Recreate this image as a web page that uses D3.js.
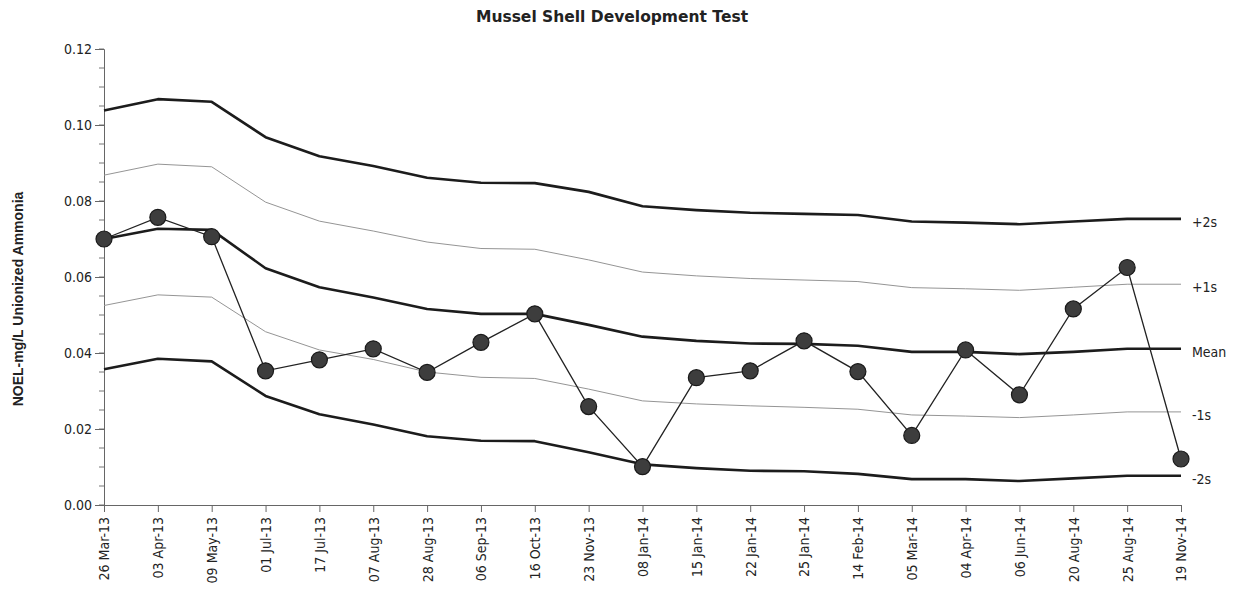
<!DOCTYPE html>
<html>
<head>
<meta charset="utf-8">
<script src="https://cdn.jsdelivr.net/npm/d3@7"></script>
<style>
  html, body { margin: 0; padding: 0; background: #fff; }
  svg { display: block; }
  text { font-family: "DejaVu Sans Condensed", "DejaVu Sans", sans-serif; fill: #222; }
</style>
</head>
<body>
<svg id="chart" width="1233" height="597"></svg>
<script>
// Test dates (x categories)
const dates = ["26 Mar-13", "03 Apr-13", "09 May-13", "01 Jul-13", "17 Jul-13", "07 Aug-13",
  "28 Aug-13", "06 Sep-13", "16 Oct-13", "23 Nov-13", "08 Jan-14", "15 Jan-14", "22 Jan-14",
  "25 Jan-14", "14 Feb-14", "05 Mar-14", "04 Apr-14", "06 Jun-14", "20 Aug-14", "25 Aug-14",
  "19 Nov-14"];

// NOEL results (mg/L unionized ammonia)
const noel = [0.070, 0.0757, 0.0706, 0.0353, 0.0382, 0.0411, 0.0349, 0.0428, 0.0503, 0.0259,
  0.0101, 0.0335, 0.0353, 0.0432, 0.0351, 0.0183, 0.0408, 0.0290, 0.0516, 0.0625, 0.0121];

// Control limits: running mean and ±1s / ±2s
const plus2s = [0.1038, 0.1068, 0.1061, 0.0968, 0.0918, 0.0892, 0.0861, 0.0848, 0.0847, 0.0824,
  0.0786, 0.0776, 0.0769, 0.0766, 0.0763, 0.0746, 0.0743, 0.0739, 0.0746, 0.0753, 0.0753];
const plus1s = [0.0868, 0.0897, 0.0890, 0.0797, 0.0747, 0.0721, 0.0692, 0.0675, 0.0673, 0.0645,
  0.0613, 0.0603, 0.0596, 0.0592, 0.0588, 0.0572, 0.0569, 0.0565, 0.0573, 0.0581, 0.0581];
const mean = [0.0700, 0.0727, 0.0724, 0.0623, 0.0573, 0.0546, 0.0516, 0.0503, 0.0503, 0.0474,
  0.0443, 0.0432, 0.0425, 0.0424, 0.0419, 0.0403, 0.0403, 0.0397, 0.0403, 0.0411, 0.0411];
const minus1s = [0.0525, 0.0553, 0.0547, 0.0456, 0.0408, 0.0383, 0.0350, 0.0336, 0.0333, 0.0305,
  0.0274, 0.0266, 0.0261, 0.0257, 0.0252, 0.0237, 0.0234, 0.0230, 0.0237, 0.0245, 0.0245];
const minus2s = [0.0357, 0.0385, 0.0378, 0.0287, 0.0239, 0.0212, 0.0181, 0.0169, 0.0168, 0.0139,
  0.0107, 0.0097, 0.0090, 0.0089, 0.0082, 0.0068, 0.0068, 0.0063, 0.0070, 0.0077, 0.0077];

const yTicks = [0, 0.02, 0.04, 0.06, 0.08, 0.10, 0.12];
const yMinorTicks = d3.range(0, 0.1201, 0.005);

const svg = d3.select("#chart");
const plotLeft = 104, plotRight = 1181, plotTop = 49, plotBottom = 505;

const x = d3.scalePoint().domain(dates).range([plotLeft, plotRight]);
const y = d3.scaleLinear().domain([0, 0.12]).range([plotBottom, plotTop]);

// Title
svg.append("text")
  .attr("x", 612).attr("y", 22)
  .attr("text-anchor", "middle")
  .style("font-family", "'DejaVu Sans', sans-serif")
  .style("font-weight", "bold").style("font-size", "15.5px")
  .text("Mussel Shell Development Test");

// Y axis label
svg.append("text")
  .attr("transform", `translate(23, ${299}) rotate(-90)`)
  .attr("text-anchor", "middle")
  .style("font-family", "'Liberation Sans', Arial, sans-serif")
  .style("font-weight", "bold").style("font-size", "14px")
  .text("NOEL-mg/L Unionized Ammonia");

// Minor ticks on Y axis
svg.append("g").selectAll("line").data(yMinorTicks).join("line")
  .attr("x1", plotLeft - 5).attr("x2", plotLeft)
  .attr("y1", d => y(d)).attr("y2", d => y(d))
  .attr("stroke", "#777").attr("stroke-width", 1);

// Y axis
const yAxis = svg.append("g")
  .attr("transform", `translate(${plotLeft},0)`)
  .call(d3.axisLeft(y).tickValues(yTicks).tickFormat(d3.format(".2f")).tickSize(9).tickPadding(3));
yAxis.select(".domain").attr("stroke", "#666");
yAxis.selectAll(".tick line").attr("stroke", "#666");
yAxis.selectAll("text").style("font-size", "14px").attr("fill", "#333");

// X axis
const xAxis = svg.append("g")
  .attr("transform", `translate(0,${plotBottom})`)
  .call(d3.axisBottom(x).tickSize(7).tickSizeOuter(0));
xAxis.select(".domain").attr("stroke", "#666");
xAxis.selectAll(".tick line").attr("stroke", "#666");
xAxis.selectAll("text")
  .style("font-size", "14px").attr("fill", "#333")
  .attr("text-anchor", "end")
  .attr("transform", "rotate(-90)")
  .attr("x", -12).attr("y", 0).attr("dy", "0.35em");

const line = d3.line().x((d, i) => x(dates[i])).y(d => y(d));

// Control limit lines
const limits = [
  { values: plus2s, label: "+2s", width: 2.6, color: "#1c1c1c" },
  { values: plus1s, label: "+1s", width: 1, color: "#959595" },
  { values: mean, label: "Mean", width: 2.6, color: "#1c1c1c" },
  { values: minus1s, label: "-1s", width: 1, color: "#959595" },
  { values: minus2s, label: "-2s", width: 2.6, color: "#1c1c1c" }
];

svg.append("g").selectAll("path").data(limits).join("path")
  .attr("d", d => line(d.values))
  .attr("fill", "none")
  .attr("stroke", d => d.color)
  .attr("stroke-width", d => d.width)
  .attr("stroke-linejoin", "round");

svg.append("g").selectAll("text").data(limits).join("text")
  .attr("x", plotRight + 11)
  .attr("y", d => y(d.values[d.values.length - 1]) + 3)
  .attr("dy", "0.35em")
  .style("font-size", "14px").attr("fill", "#333")
  .text(d => d.label);

// NOEL series
svg.append("path")
  .attr("d", line(noel))
  .attr("fill", "none")
  .attr("stroke", "#222")
  .attr("stroke-width", 1.3);

svg.append("g").selectAll("circle").data(noel).join("circle")
  .attr("cx", (d, i) => x(dates[i]))
  .attr("cy", d => y(d))
  .attr("r", 8)
  .attr("fill", "#3d3d3d")
  .attr("stroke", "#1a1a1a")
  .attr("stroke-width", 1.2);
</script>
</body>
</html>
